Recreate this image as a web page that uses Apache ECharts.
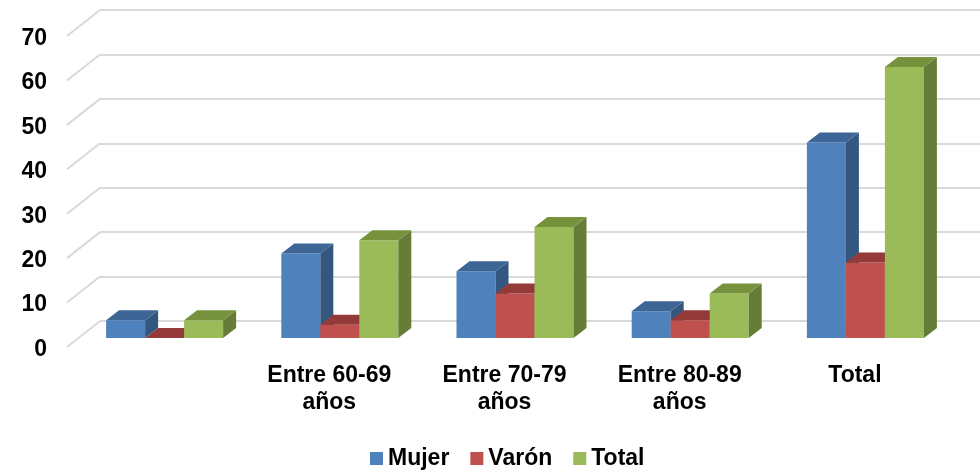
<!DOCTYPE html>
<html>
<head>
<meta charset="utf-8">
<script src="https://cdn.jsdelivr.net/npm/echarts@6/dist/echarts.min.js"></script>
<style>
  html, body { margin: 0; padding: 0; background: #fff; }
  #chart { width: 980px; height: 472px; }
</style>
</head>
<body>
<div id="chart"></div>
<script>
var categories = ['', 'Entre 60-69\naños', 'Entre 70-79\naños', 'Entre 80-89\naños', 'Total'];
var mujer = [4, 19, 15, 6, 44];
var varon = [0, 3, 10, 4, 17];
var total = [4, 22, 25, 10, 61];
var yTicks = [0, 10, 20, 30, 40, 50, 60, 70];

var chartDom = document.getElementById('chart');
var myChart = echarts.init(chartDom);
var font = 'Liberation Sans, Arial, sans-serif';

// 3d look: depth offset of a bar and of the whole wall
var barW = 39, dX = 13, dY = -10;
var wallX = -33, wallY = 26;

function bar3d(idx, front, side, top) {
  return function (params, api) {
    var cat = api.value(0);
    var base = api.coord([cat, 0]);
    var tp = api.coord([cat, api.value(1)]);
    var x0 = base[0] - barW * 1.5 + idx * barW;
    var x1 = x0 + barW;
    var yb = base[1], yt = tp[1];
    return {
      type: 'group',
      children: [
        { type: 'rect', shape: { x: x0, y: yt, width: barW, height: yb - yt }, style: { fill: front } },
        { type: 'polygon', shape: { points: [[x1, yt], [x1 + dX, yt + dY], [x1 + dX, yb + dY], [x1, yb]] }, style: { fill: side } },
        { type: 'polygon', shape: { points: [[x0, yt], [x0 + dX, yt + dY], [x1 + dX, yt + dY], [x1, yt]] }, style: { fill: top } }
      ]
    };
  };
}

function toData(arr) {
  return arr.map(function (v, i) { return [i, v]; });
}

var option = {
  animation: false,
  legend: {
    data: ['Mujer', 'Varón', 'Total'],
    left: 365,
    top: 442,
    icon: 'rect',
    itemWidth: 13,
    itemHeight: 13,
    itemGap: 21,
    textStyle: { fontFamily: font, fontSize: 23, fontWeight: 'bold', color: '#000' }
  },
  grid: [
    // back wall
    { left: 100, right: 0, top: 10, bottom: 151 },
    // front plane of the bars
    { left: 77, right: 27, top: 27, bottom: 134 }
  ],
  xAxis: [
    { gridIndex: 0, type: 'value', min: 0, max: 1, show: false },
    {
      gridIndex: 1,
      type: 'category',
      data: categories,
      axisLine: { show: false },
      axisTick: { show: false },
      axisLabel: {
        interval: 0,
        fontFamily: font,
        fontSize: 23,
        fontWeight: 'bold',
        color: '#000',
        lineHeight: 27,
        margin: 24,
        padding: [0, 21, 0, 0]
      }
    }
  ],
  yAxis: [
    {
      gridIndex: 0,
      type: 'value',
      min: 0, max: 70, interval: 10,
      axisLine: { show: false },
      axisTick: { show: false },
      axisLabel: { show: false },
      splitLine: { lineStyle: { color: '#d9d9d9', width: 2 } }
    },
    {
      gridIndex: 1,
      type: 'value',
      min: 0, max: 70, interval: 10,
      axisLine: { show: false },
      axisTick: { show: false },
      splitLine: { show: false },
      axisLabel: {
        fontFamily: font,
        fontSize: 23,
        fontWeight: 'bold',
        color: '#000',
        margin: 30,
        verticalAlign: 'top'
      }
    }
  ],
  series: [
    {
      name: 'wall',
      type: 'custom',
      xAxisIndex: 0,
      yAxisIndex: 0,
      silent: true,
      data: yTicks.map(function (v) { return [0, v]; }),
      renderItem: function (params, api) {
        var p = api.coord([0, api.value(1)]);
        return {
          type: 'line',
          shape: { x1: p[0], y1: p[1], x2: p[0] + wallX, y2: p[1] + wallY },
          style: { stroke: '#d9d9d9', lineWidth: 2 }
        };
      }
    },
    {
      name: 'Mujer',
      type: 'custom',
      xAxisIndex: 1,
      yAxisIndex: 1,
      itemStyle: { color: '#4F81BD' },
      data: toData(mujer),
      renderItem: bar3d(0, '#4F81BD', '#34577F', '#3D6596')
    },
    {
      name: 'Varón',
      type: 'custom',
      xAxisIndex: 1,
      yAxisIndex: 1,
      itemStyle: { color: '#C0504D' },
      data: toData(varon),
      renderItem: bar3d(1, '#C0504D', '#8A3735', '#943B39')
    },
    {
      name: 'Total',
      type: 'custom',
      xAxisIndex: 1,
      yAxisIndex: 1,
      itemStyle: { color: '#9BBB59' },
      data: toData(total),
      renderItem: bar3d(2, '#9BBB59', '#667D38', '#76923C')
    }
  ]
};

option && myChart.setOption(option);
</script>
</body>
</html>
